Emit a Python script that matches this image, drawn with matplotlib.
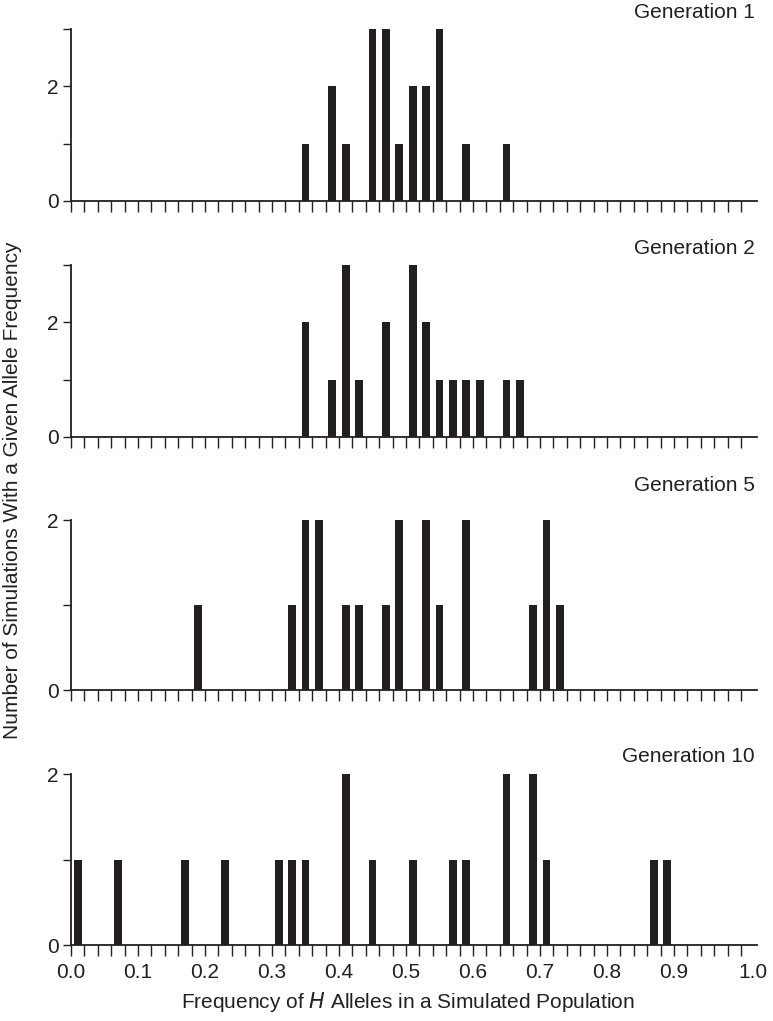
import matplotlib
matplotlib.use("Agg")
import matplotlib.pyplot as plt
import matplotlib.transforms as mtransforms
import numpy as np

plt.rcParams['font.family'] = ['Liberation Sans', 'DejaVu Sans']

# Allele frequency bins (left edge of 0.02-wide bin) and counts per panel
gen1_freq = [0.34, 0.38, 0.40, 0.44, 0.46, 0.48, 0.50, 0.52, 0.54, 0.58, 0.64]
gen1_count = [1, 2, 1, 3, 3, 1, 2, 2, 3, 1, 1]

gen2_freq = [0.34, 0.38, 0.40, 0.42, 0.46, 0.50, 0.52, 0.54, 0.56, 0.58, 0.60, 0.64, 0.66]
gen2_count = [2, 1, 3, 1, 2, 3, 2, 1, 1, 1, 1, 1, 1]

gen5_freq = [0.18, 0.32, 0.34, 0.36, 0.40, 0.42, 0.46, 0.48, 0.52, 0.54, 0.58, 0.68, 0.70, 0.72]
gen5_count = [1, 1, 2, 2, 1, 1, 1, 2, 2, 1, 2, 1, 2, 1]

gen10_freq = [0.00, 0.06, 0.16, 0.22, 0.30, 0.32, 0.34, 0.40, 0.44, 0.50, 0.56, 0.58,
              0.64, 0.68, 0.70, 0.86, 0.88]
gen10_count = [1, 1, 1, 1, 1, 1, 1, 2, 1, 1, 1, 1, 2, 2, 1, 1, 1]

panel_titles = ["Generation 1", "Generation 2", "Generation 5", "Generation 10"]
panel_ymax = [3, 3, 2, 2]
x_tick_labels = ["0.0", "0.1", "0.2", "0.3", "0.4", "0.5", "0.6", "0.7", "0.8", "0.9", "1.0"]

panels = [(gen1_freq, gen1_count), (gen2_freq, gen2_count),
          (gen5_freq, gen5_count), (gen10_freq, gen10_count)]

W, H = 773, 1021
fig = plt.figure(figsize=(W / 100, H / 100), dpi=100)

boxes = [(29, 201), (265, 437), (520, 690), (774, 945)]
left_px, right_px = 71, 757
title_y = [12, 248, 485, 756]
FS = 15

ink = "#231f20"

for i, ((freq, cnt), (top, bot)) in enumerate(zip(panels, boxes)):
    ax = fig.add_axes([left_px / W, 1 - bot / H, (right_px - left_px) / W, (bot - top) / H])
    ax.bar(np.array(freq) + 0.01, cnt, width=0.0115, color=ink, linewidth=0)
    ax.set_xlim(0, 1.024)
    ax.set_ylim(0, panel_ymax[i])
    for s in ("top", "right"):
        ax.spines[s].set_visible(False)
    for s in ("left", "bottom"):
        ax.spines[s].set_color(ink)
        ax.spines[s].set_linewidth(1.3)
    ax.set_xticks(np.linspace(0, 1, 11))
    ax.set_xticks(np.arange(0, 51) * 0.02 + 0.0, minor=True)
    ax.tick_params(axis="x", which="both", direction="out", length=8, width=1.0,
                   color=ink)
    ax.set_yticks(range(0, panel_ymax[i] + 1))
    ylabels = [str(v) if v in (0, 2) else "" for v in range(0, panel_ymax[i] + 1)]
    ax.set_yticklabels(ylabels)
    ax.tick_params(axis="y", direction="out", length=6, width=1.0, color=ink,
                   labelsize=FS, pad=3, labelcolor=ink)
    if i == 3:
        ax.set_xticklabels(x_tick_labels, fontsize=FS, color=ink)
        ax.tick_params(axis="x", pad=5)
        last = ax.get_xticklabels()[-1]
        last.set_transform(last.get_transform() +
                           mtransforms.ScaledTranslation(12 / 100, 0, fig.dpi_scale_trans))
    else:
        ax.set_xticklabels([])
    fig.text(755 / W, 1 - title_y[i] / H, panel_titles[i], ha="right", va="center",
             fontsize=FS, color=ink)

fig.text(13 / W, 1 - 490 / H, "Number of Simulations With a Given Allele Frequency",
         rotation=90, ha="center", va="center", fontsize=FS, color=ink)
fig.text(408 / W, 1 - 1002 / H,
         "Frequency of $\\it{H}$ Alleles in a Simulated Population",
         ha="center", va="center", fontsize=FS, color=ink)

fig.savefig("out.png", dpi=100)
